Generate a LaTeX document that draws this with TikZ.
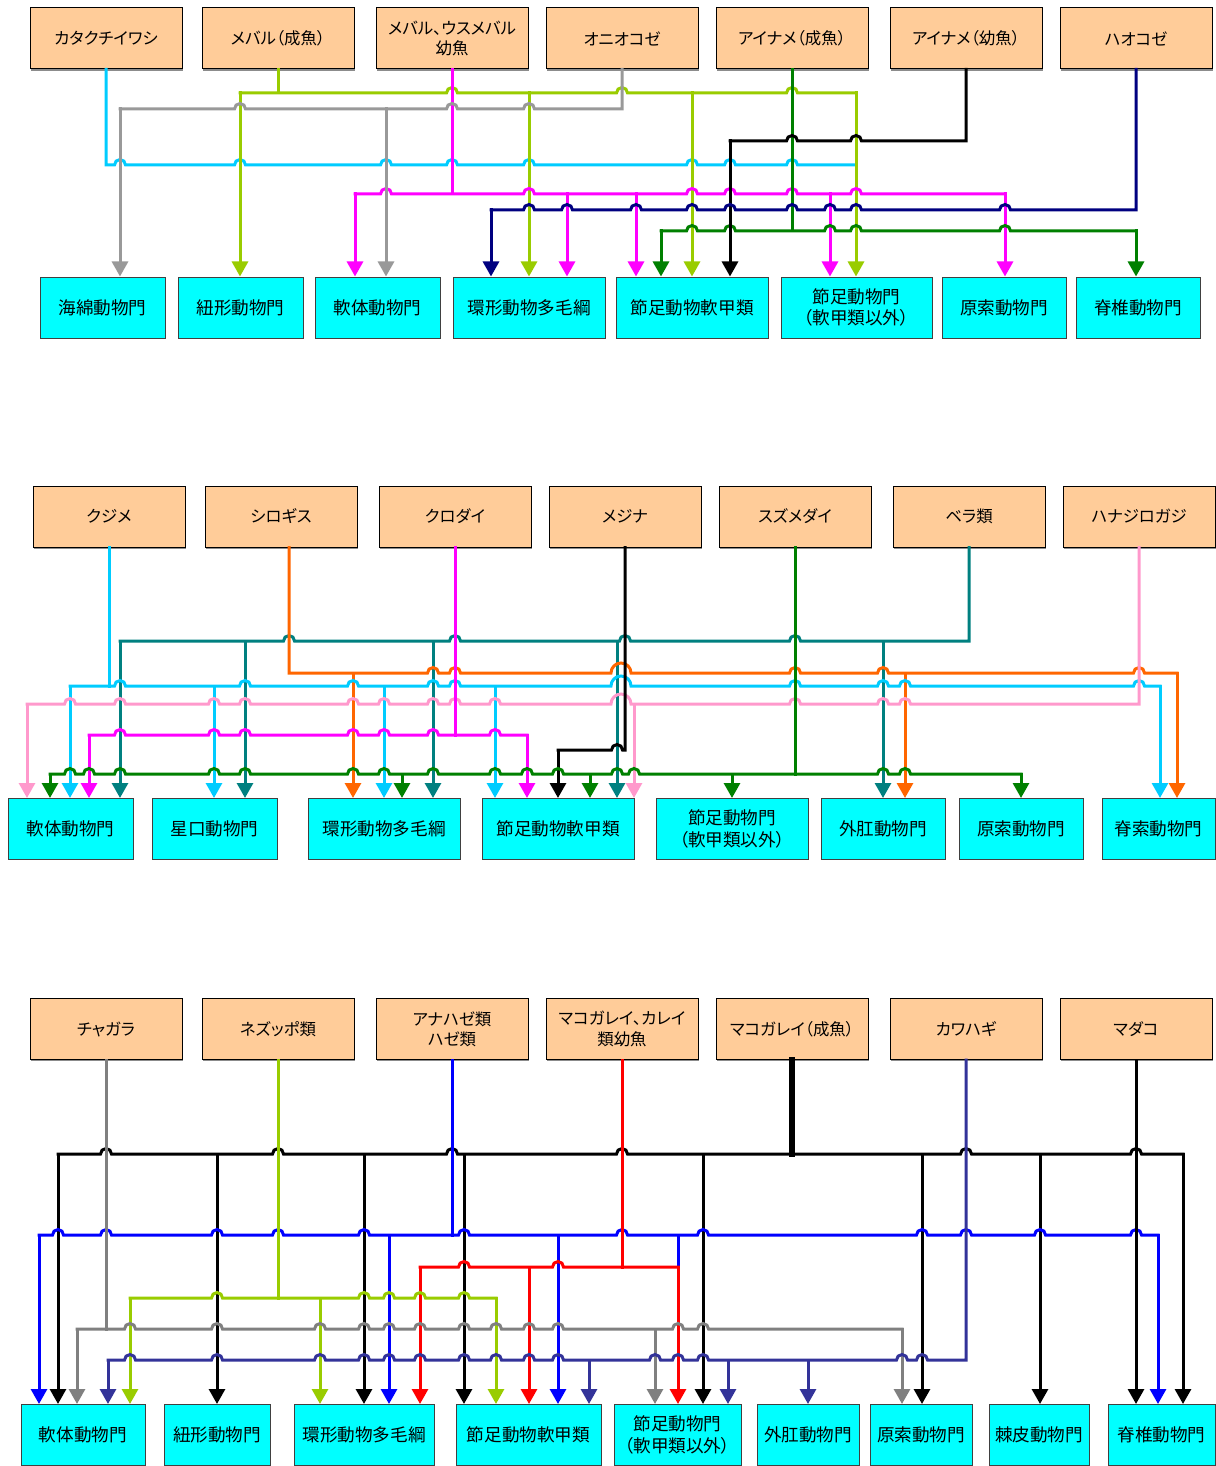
\documentclass[tikz,border=0pt]{standalone}
\usepackage{fontspec}
\newfontfamily\jpfont[RawFeature=+palt]{Noto Sans CJK JP}
\usepackage{xcolor}
\usetikzlibrary{arrows.meta,positioning,shadows}
\definecolor{srcfill}{HTML}{FFCC99}
\definecolor{taxfill}{HTML}{00FFFF}
\definecolor{skyline}{HTML}{00CCFF}
\definecolor{limeline}{HTML}{99CC00}
\definecolor{grayline}{HTML}{999999}
\definecolor{greyline}{HTML}{808080}
\definecolor{pinkline}{HTML}{FF99CC}
\definecolor{navyline}{HTML}{000080}
\definecolor{indigoline}{HTML}{333399}
\definecolor{leafline}{HTML}{008000}
\definecolor{tealline}{HTML}{008080}
\definecolor{orangeline}{HTML}{FF6600}
\definecolor{magline}{HTML}{FF00FF}
\definecolor{blueline}{HTML}{0000FF}
\definecolor{redline}{HTML}{FF0000}
\tikzset{
  srcbox/.style={draw=black, line width=0.5pt, fill=srcfill, minimum width=76pt, minimum height=30.5pt, inner sep=1pt, align=center, font=\jpfont\fontsize{8.2}{10.2}\selectfont, drop shadow={shadow xshift=0.7pt, shadow yshift=-0.8pt, fill=black!45, opacity=1}},
  taxbox/.style={draw=black!75, line width=0.5pt, fill=taxfill, minimum height=30.5pt, inner sep=1pt, align=center, font=\jpfont\fontsize{8.8}{10.8}\selectfont},
  wire/.style={line width=1.5pt, line cap=rect},
  thickwire/.style={line width=2.6pt, line cap=rect},
  arrow/.style={wire, -{Triangle[length=7.5pt,width=8pt]}}
}
\newcommand\hops[2]{\foreach \h in {#2}{ -- ({\h-5.5},#1) arc[start angle=180, end angle=0, radius=2.75pt]}}
\newcommand\bighop[2]{ -- ({#2-10},#1) arc[start angle=180, end angle=0, radius=5pt]}
\begin{document}
\begin{tikzpicture}[x=0.5pt, y=-0.5pt]
  \useasboundingbox (0,0) rectangle (1215,1466);

  % ---- first chart
  \node[srcbox] (a1) at (106,38.5) {カタクチイワシ};
  \node[srcbox] (a2) at (278,38.5) {メバル（成魚）};
  \node[srcbox] (a3) at (452,38.5) {メバル、ウスメバル\\幼魚};
  \node[srcbox] (a4) at (622,38.5) {オニオコゼ};
  \node[srcbox] (a5) at (792,38.5) {アイナメ（成魚）};
  \node[srcbox] (a6) at (966,38.5) {アイナメ（幼魚）};
  \node[srcbox] (a7) at (1136,38.5) {ハオコゼ};

  \node[taxbox, minimum width=62.5pt] (b1) at (102.5,307.5) {海綿動物門};
  \node[taxbox, minimum width=62.5pt] (b2) at (240.5,307.5) {紐形動物門};
  \node[taxbox, minimum width=62.5pt] (b3) at (377.5,307.5) {軟体動物門};
  \node[taxbox, minimum width=76pt] (b4) at (529,307.5) {環形動物多毛綱};
  \node[taxbox, minimum width=76pt] (b5) at (692,307.5) {節足動物軟甲類};
  \node[taxbox, minimum width=75.5pt] (b6) at (856.5,307.5) {節足動物門\\（軟甲類以外）};
  \node[taxbox, minimum width=62pt] (b7) at (1004,307.5) {原索動物門};
  \node[taxbox, minimum width=62pt] (b8) at (1138,307.5) {脊椎動物門};

  \draw[wire, skyline] (a1.south) -- (106,165) \hops{165}{120,240,386,452,529,692,730,792} -- (856,165);

  \draw[wire, limeline] (a2.south) -- (278,93);
  \draw[wire, limeline] (240,93) \hops{93}{452,622,792} -- (856,93);
  \draw[arrow, limeline] (240,93) -- (240,0 |- b2.north);
  \draw[arrow, limeline] (529,93) -- (529,0 |- b4.north);
  \draw[arrow, limeline] (692,93) -- (692,0 |- b5.north);
  \draw[arrow, limeline] (856,93) -- (856,0 |- b6.north);

  \draw[wire, magline] (a3.south) -- (452,194);
  \draw[wire, magline] (355,194) \hops{194}{386,529,692,730,792,856} -- (1005,194);
  \draw[arrow, magline] (355,194) -- (355,0 |- b3.north);
  \draw[arrow, magline] (567,194) -- (567,0 |- b4.north);
  \draw[arrow, magline] (636,194) -- (636,0 |- b5.north);
  \draw[arrow, magline] (830,194) -- (830,0 |- b6.north);
  \draw[arrow, magline] (1005,194) -- (1005,0 |- b7.north);

  \draw[wire, grayline] (120,109) \hops{109}{240,452,529} -- (622,109) -- (a4.south);
  \draw[arrow, grayline] (120,109) -- (120,0 |- b1.north);
  \draw[arrow, grayline] (386,109) -- (386,0 |- b3.north);

  \draw[wire, leafline] (a5.south) -- (792,231);
  \draw[wire, leafline] (661,231) \hops{231}{692,730,830,856,1005} -- (1136,231);
  \draw[arrow, leafline] (661,231) -- (661,0 |- b5.north);
  \draw[arrow, leafline] (1136,231) -- (1136,0 |- b8.north);

  \draw[wire, black] (730,141) \hops{141}{792,856} -- (966,141) -- (a6.south);
  \draw[arrow, black] (730,141) -- (730,0 |- b5.north);

  \draw[wire, navyline] (491,210) \hops{210}{529,567,636,692,730,792,830,856,1005} -- (1136,210) -- (a7.south);
  \draw[arrow, navyline] (491,210) -- (491,0 |- b4.north);

  % ---- second chart
  \node[srcbox] (c1) at (109,516.5) {クジメ};
  \node[srcbox] (c2) at (281,516.5) {シロギス};
  \node[srcbox] (c3) at (455,516.5) {クロダイ};
  \node[srcbox] (c4) at (625,516.5) {メジナ};
  \node[srcbox] (c5) at (795,516.5) {スズメダイ};
  \node[srcbox] (c6) at (969,516.5) {ベラ類};
  \node[srcbox] (c7) at (1139,516.5) {ハナジロガジ};

  \node[taxbox, minimum width=62.5pt] (d1) at (70.5,829) {軟体動物門};
  \node[taxbox, minimum width=62.5pt] (d2) at (214.5,829) {星口動物門};
  \node[taxbox, minimum width=76pt] (d3) at (384,829) {環形動物多毛綱};
  \node[taxbox, minimum width=76pt] (d4) at (558,829) {節足動物軟甲類};
  \node[taxbox, minimum width=76pt] (d5) at (732,829) {節足動物門\\（軟甲類以外）};
  \node[taxbox, minimum width=62pt] (d6) at (883,829) {外肛動物門};
  \node[taxbox, minimum width=62pt] (d7) at (1021,829) {原索動物門};
  \node[taxbox, minimum width=56.5pt] (d8) at (1158.5,829) {脊索動物門};

  \draw[wire, tealline] (120,641) \hops{641}{289,455,625,795} -- (969,641) -- (c6.south);
  \draw[arrow, tealline] (120,641) -- (120,0 |- d1.north);
  \draw[arrow, tealline] (245,641) -- (245,0 |- d2.north);
  \draw[arrow, tealline] (433,641) -- (433,0 |- d3.north);
  \draw[arrow, tealline] (617,641) -- (617,0 |- d4.north);
  \draw[arrow, tealline] (883,641) -- (883,0 |- d6.north);

  \draw[wire, orangeline] (289,0 |- c2.south) -- (289,673) \hops{673}{433,455} \bighop{673}{621} \hops{673}{795,883,1139} -- (1177,673);
  \draw[arrow, orangeline] (353,673) -- (353,0 |- d3.north);
  \draw[arrow, orangeline] (905,673) -- (905,0 |- d6.north);
  \draw[arrow, orangeline] (1177,673) -- (1177,0 |- d8.north);

  \draw[wire, skyline] (c1.south) -- (109,686);
  \draw[wire, skyline] (70,686) \hops{686}{120,245,353,433,455} \bighop{686}{621} \hops{686}{795,883,905,1139} -- (1160,686);
  \draw[arrow, skyline] (70,686) -- (70,0 |- d1.north);
  \draw[arrow, skyline] (214,686) -- (214,0 |- d2.north);
  \draw[arrow, skyline] (384,686) -- (384,0 |- d3.north);
  \draw[arrow, skyline] (495,686) -- (495,0 |- d4.north);
  \draw[arrow, skyline] (1160,686) -- (1160,0 |- d8.north);

  \draw[wire, pinkline] (27,704) \hops{704}{70,120,214,245,353,384,433,455,495} \bighop{704}{621} \hops{704}{795,883,905} -- (1139,704) -- (c7.south);
  \draw[arrow, pinkline] (27,704) -- (27,0 |- d1.north);
  \draw[arrow, pinkline] (634,704) -- (634,0 |- d4.north);

  \draw[wire, magline] (c3.south) -- (455,735);
  \draw[wire, magline] (89,735) \hops{735}{120,214,245,353,384,433,495} -- (527,735);
  \draw[arrow, magline] (89,735) -- (89,0 |- d1.north);
  \draw[arrow, magline] (527,735) -- (527,0 |- d4.north);

  \draw[wire, black] (558,750) \hops{750}{617} -- (625,750) -- (c4.south);
  \draw[arrow, black] (558,750) -- (558,0 |- d4.north);

  \draw[wire, leafline] (c5.south) -- (795,774);
  \draw[wire, leafline] (50,774) \hops{774}{70,89,120,214,245,353,384,433,495,527,558,617,634,883,905} -- (1021,774);
  \draw[arrow, leafline] (50,774) -- (50,0 |- d1.north);
  \draw[arrow, leafline] (402,774) -- (402,0 |- d3.north);
  \draw[arrow, leafline] (590,774) -- (590,0 |- d4.north);
  \draw[arrow, leafline] (732,774) -- (732,0 |- d5.north);
  \draw[arrow, leafline] (1021,774) -- (1021,0 |- d7.north);

  % ---- third chart
  \node[srcbox] (e1) at (106,1029) {チャガラ};
  \node[srcbox] (e2) at (278,1029) {ネズッポ類};
  \node[srcbox] (e3) at (452,1029) {アナハゼ類\\ハゼ類};
  \node[srcbox] (e4) at (622,1029) {マコガレイ、カレイ\\類幼魚};
  \node[srcbox] (e5) at (792,1029) {マコガレイ（成魚）};
  \node[srcbox] (e6) at (966,1029) {カワハギ};
  \node[srcbox] (e7) at (1136,1029) {マダコ};

  \node[taxbox, minimum width=62pt] (f1) at (83,1435) {軟体動物門};
  \node[taxbox, minimum width=53pt] (f2) at (217,1435) {紐形動物門};
  \node[taxbox, minimum width=70pt] (f3) at (364,1435) {環形動物多毛綱};
  \node[taxbox, minimum width=72.5pt] (f4) at (528.5,1435) {節足動物軟甲類};
  \node[taxbox, minimum width=63.5pt] (f5) at (677.5,1435) {節足動物門\\（軟甲類以外）};
  \node[taxbox, minimum width=51pt] (f6) at (808,1435) {外肛動物門};
  \node[taxbox, minimum width=51pt] (f7) at (921,1435) {原索動物門};
  \node[taxbox, minimum width=50pt] (f8) at (1039,1435) {棘皮動物門};
  \node[taxbox, minimum width=53.5pt] (f9) at (1161.5,1435) {脊椎動物門};

  \draw[thickwire, black] (e5.south) -- (792,1154);
  \draw[wire, black] (58,1154) \hops{1154}{106,278,452,622,966,1136} -- (1183,1154);
  \draw[arrow, black] (58,1154) -- (58,0 |- f1.north);
  \draw[arrow, black] (217,1154) -- (217,0 |- f2.north);
  \draw[arrow, black] (364,1154) -- (364,0 |- f3.north);
  \draw[arrow, black] (464,1154) -- (464,0 |- f4.north);
  \draw[arrow, black] (703,1154) -- (703,0 |- f5.north);
  \draw[arrow, black] (922,1154) -- (922,0 |- f7.north);
  \draw[arrow, black] (1040,1154) -- (1040,0 |- f8.north);
  \draw[arrow, black] (1183,1154) -- (1183,0 |- f9.north);

  \draw[wire, blueline] (e3.south) -- (452,1235);
  \draw[wire, blueline] (39,1235) \hops{1235}{58,106,217,278,364,464,622,703,922,966,1040,1136} -- (1158,1235);
  \draw[wire, blueline] (678,1235) -- (678,1267);
  \draw[arrow, blueline] (39,1235) -- (39,0 |- f1.north);
  \draw[arrow, blueline] (389,1235) -- (389,0 |- f3.north);
  \draw[arrow, blueline] (558,1235) -- (558,0 |- f4.north);
  \draw[arrow, blueline] (1158,1235) -- (1158,0 |- f9.north);

  \draw[wire, redline] (e4.south) -- (622,1267);
  \draw[wire, redline] (420,1267) \hops{1267}{464,558} -- (678,1267);
  \draw[arrow, redline] (420,1267) -- (420,0 |- f3.north);
  \draw[arrow, redline] (529,1267) -- (529,0 |- f4.north);
  \draw[arrow, redline] (678,1267) -- (678,0 |- f5.north);

  \draw[wire, limeline] (e2.south) -- (278,1298);
  \draw[wire, limeline] (130,1298) \hops{1298}{217,364,389,420,464} -- (496,1298);
  \draw[arrow, limeline] (130,1298) -- (130,0 |- f1.north);
  \draw[arrow, limeline] (320,1298) -- (320,0 |- f3.north);
  \draw[arrow, limeline] (496,1298) -- (496,0 |- f4.north);

  \draw[wire, greyline] (e1.south) -- (106,1329);
  \draw[wire, greyline] (77,1329) \hops{1329}{130,217,320,364,389,420,464,496,529,558,678,703} -- (902,1329);
  \draw[arrow, greyline] (77,1329) -- (77,0 |- f1.north);
  \draw[arrow, greyline] (655,1329) -- (655,0 |- f5.north);
  \draw[arrow, greyline] (902,1329) -- (902,0 |- f7.north);

  \draw[wire, indigoline] (108,1360) \hops{1360}{130,217,320,364,389,420,464,496,529,558,655,678,703,902,922} -- (966,1360) -- (e6.south);
  \draw[arrow, indigoline] (108,1360) -- (108,0 |- f1.north);
  \draw[arrow, indigoline] (589,1360) -- (589,0 |- f4.north);
  \draw[arrow, indigoline] (728,1360) -- (728,0 |- f5.north);
  \draw[arrow, indigoline] (808,1360) -- (808,0 |- f6.north);

  \draw[arrow, black] (e7.south) -- (1136,0 |- f9.north);
\end{tikzpicture}
\end{document}
